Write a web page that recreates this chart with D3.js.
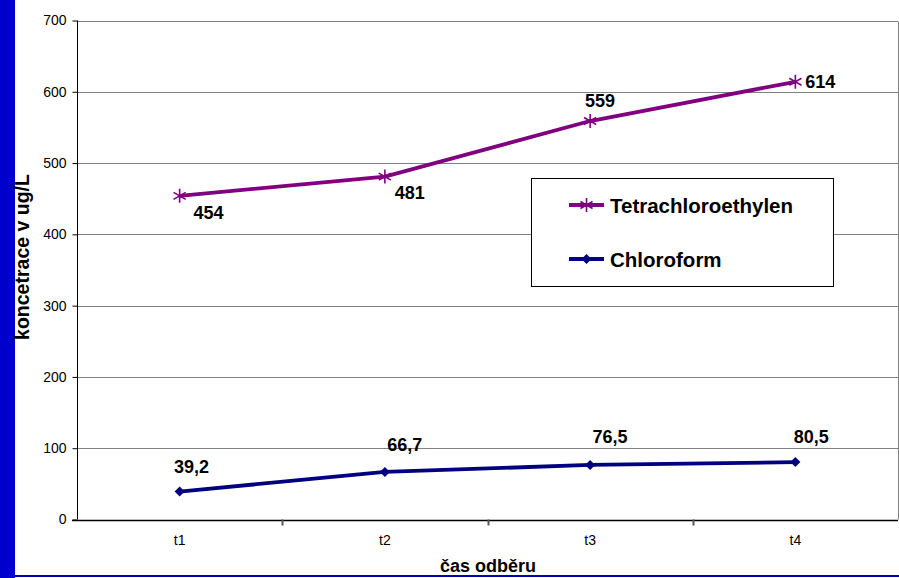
<!DOCTYPE html>
<html>
<head>
<meta charset="utf-8">
<script src="https://cdn.jsdelivr.net/npm/d3@7"></script>
<style>
  html, body { margin: 0; padding: 0; background: #fff; }
  svg { display: block; font-family: Arial, "Liberation Sans", sans-serif; }
</style>
</head>
<body>
<svg id="chart" width="899" height="578"></svg>
<script>
// Sampling times and measured concentrations (µg/L)
const categories = ["t1", "t2", "t3", "t4"];
const tetrachloroethylen = [454, 481, 559, 614];
const chloroform = [39.2, 66.7, 76.5, 80.5];
const yTicks = [0, 100, 200, 300, 400, 500, 600, 700];
const seriesNames = ["Tetrachloroethylen", "Chloroform"];

// Label offsets relative to each point (px)
const tetraLabelOffsets = [[29, 17], [25, 16], [10, -20], [25, 0]];
const chloroLabelOffsets = [[12, -25], [20, -27], [20, -28], [16, -25]];

const svg = d3.select("#chart");
const W = 899, H = 578;
const plot = { left: 77, right: 898, top: 20.5, bottom: 519.5 };

// Blue frame on the left and bottom
svg.append("rect").attr("x", 0).attr("y", 0).attr("width", 15).attr("height", H).attr("fill", "#0000CC");
svg.append("rect").attr("x", 15).attr("y", 575).attr("width", W - 15).attr("height", 2).attr("fill", "#0000AA");

const x = d3.scaleBand().domain(categories).range([plot.left, plot.right]).padding(0);
const cx = d => x(d) + x.bandwidth() / 2;
const y = d3.scaleLinear().domain([0, 700]).range([plot.bottom, plot.top]);

// Horizontal gridlines
svg.append("g").selectAll("line").data(yTicks.filter(v => v > 0)).join("line")
  .attr("x1", plot.left).attr("x2", plot.right)
  .attr("y1", d => Math.round(y(d)) + 0.5).attr("y2", d => Math.round(y(d)) + 0.5)
  .attr("stroke", "#808080").attr("stroke-width", 1);

// Right border of the plot area
svg.append("line").attr("x1", plot.right + 0.5).attr("x2", plot.right + 0.5)
  .attr("y1", Math.round(y(700)) + 0.5).attr("y2", plot.bottom)
  .attr("stroke", "#808080").attr("stroke-width", 1);

// Y axis
const yAxis = svg.append("g").attr("transform", `translate(${plot.left + 0.5},0)`)
  .call(d3.axisLeft(y).tickValues(yTicks).tickSize(5).tickPadding(6).tickFormat(d3.format("d")));
yAxis.select(".domain").attr("stroke", "#000").attr("d", `M0,${plot.top}V${plot.bottom}`);
yAxis.selectAll(".tick line").attr("stroke", "#000");
yAxis.selectAll(".tick text").attr("font-size", "14px").attr("fill", "#000")
  .attr("font-family", "Arial, 'Liberation Sans', sans-serif");

// X axis: labels at category centres, tick marks on category boundaries
const xAxis = svg.append("g").attr("transform", `translate(0,${Math.round(plot.bottom) + 0.5})`)
  .call(d3.axisBottom(x).tickSize(0).tickPadding(15));
xAxis.select(".domain").remove();
xAxis.selectAll(".tick text").attr("font-size", "14px").attr("fill", "#000")
  .attr("font-family", "Arial, 'Liberation Sans', sans-serif");
svg.append("line").attr("x1", plot.left - 5).attr("x2", plot.right)
  .attr("y1", Math.round(plot.bottom) + 0.5).attr("y2", Math.round(plot.bottom) + 0.5)
  .attr("stroke", "#000").attr("stroke-width", 1.5);
svg.append("g").selectAll("line").data(categories.slice(1)).join("line")
  .attr("x1", d => Math.round(x(d)) + 0.5).attr("x2", d => Math.round(x(d)) + 0.5)
  .attr("y1", plot.bottom).attr("y2", plot.bottom + 6)
  .attr("stroke", "#555").attr("stroke-width", 2);

// Axis titles
svg.append("text").attr("x", 488).attr("y", 572).attr("text-anchor", "middle")
  .attr("font-size", "18px").attr("font-weight", "bold").text("čas odběru");
svg.append("text").attr("transform", "translate(29,257) rotate(-90)").attr("text-anchor", "middle")
  .attr("font-size", "19.5px").attr("font-weight", "bold").text("koncetrace v ug/L");

const line = d3.line().x((d, i) => cx(categories[i])).y(d => y(d));

// Marker shapes
function star(g, color, r) {
  const p = `M0,${-r}V${r}M${-r * 0.87},${-r * 0.5}L${r * 0.87},${r * 0.5}M${-r * 0.87},${r * 0.5}L${r * 0.87},${-r * 0.5}`;
  g.append("path").attr("d", p).attr("stroke", color).attr("stroke-width", 1.6).attr("fill", "none");
}
function diamond(g, color, r) {
  g.append("path").attr("d", `M0,${-r}L${r},0L0,${r}L${-r},0Z`).attr("fill", color);
}

const series = [
  { name: seriesNames[0], values: tetrachloroethylen, color: "#800080", marker: star, size: 7, offsets: tetraLabelOffsets, fmt: d => String(d) },
  { name: seriesNames[1], values: chloroform, color: "#000080", marker: diamond, size: 5, offsets: chloroLabelOffsets, fmt: d => d.toFixed(1).replace(".", ",") }
];

series.forEach(s => {
  svg.append("path").datum(s.values).attr("d", line)
    .attr("fill", "none").attr("stroke", s.color).attr("stroke-width", 3.8).attr("stroke-linejoin", "round");
  s.values.forEach((v, i) => {
    const g = svg.append("g").attr("transform", `translate(${cx(categories[i])},${y(v)})`);
    s.marker(g, s.color, s.size);
    svg.append("text")
      .attr("x", cx(categories[i]) + s.offsets[i][0]).attr("y", y(v) + s.offsets[i][1])
      .attr("text-anchor", "middle").attr("dominant-baseline", "central")
      .attr("font-size", "18px").attr("font-weight", "bold").attr("fill", "#000")
      .text(s.fmt(v));
  });
});

// Legend
const lg = svg.append("g");
lg.append("rect").attr("x", 531.5).attr("y", 178.5).attr("width", 302).attr("height", 108)
  .attr("fill", "#fff").attr("stroke", "#000").attr("stroke-width", 1);
series.forEach((s, i) => {
  const ly = 205 + i * 54;
  lg.append("line").attr("x1", 569).attr("x2", 604).attr("y1", ly).attr("y2", ly)
    .attr("stroke", s.color).attr("stroke-width", 3.8);
  const mg = lg.append("g").attr("transform", `translate(586.5,${ly})`);
  s.marker(mg, s.color, s.size);
  lg.append("text").attr("x", 610).attr("y", ly).attr("dominant-baseline", "central")
    .attr("font-size", "20.5px").attr("font-weight", "bold").text(s.name);
});
</script>
</body>
</html>
